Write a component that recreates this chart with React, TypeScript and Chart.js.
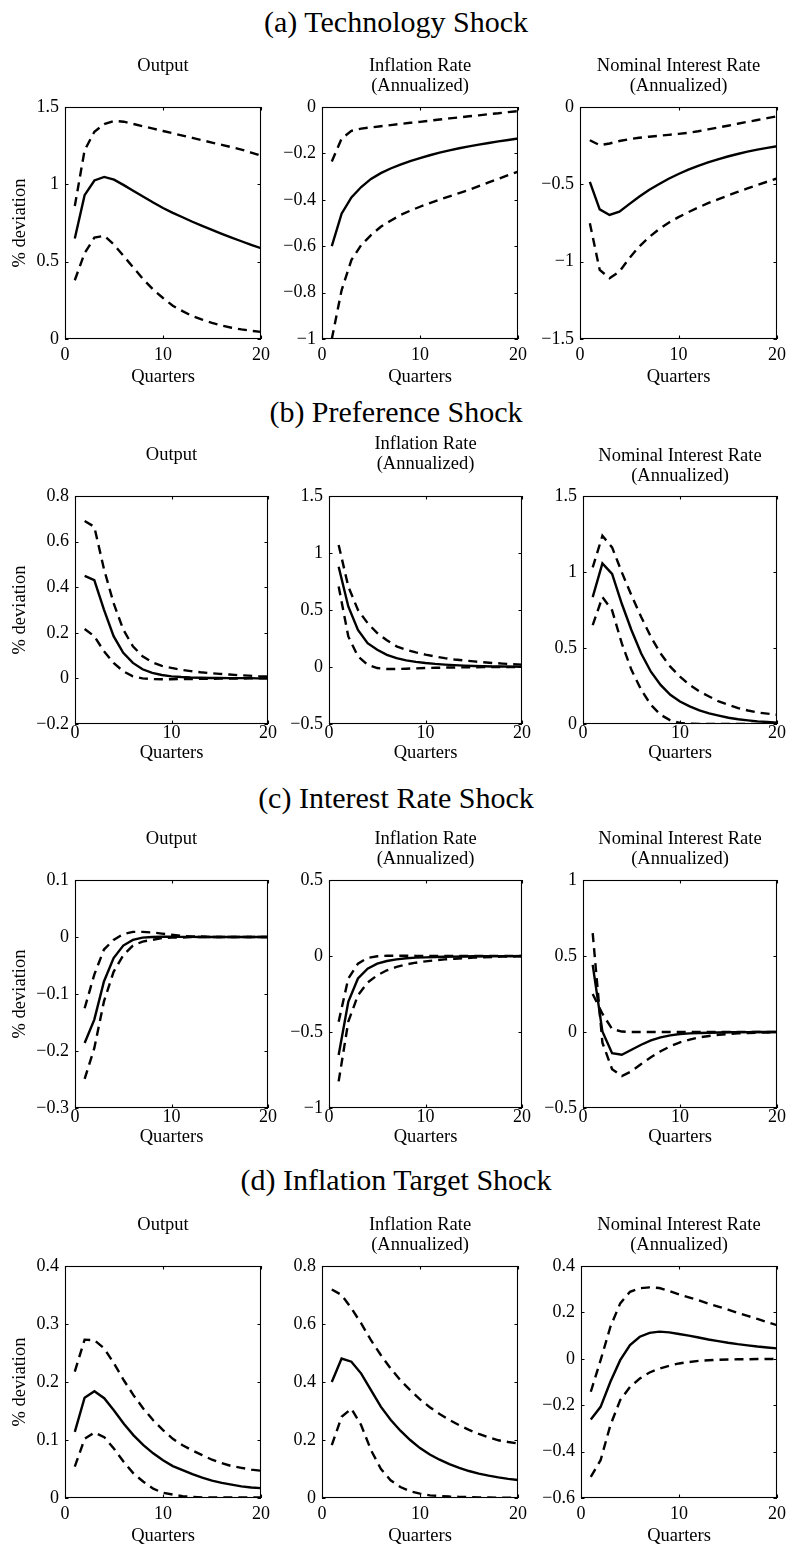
import React, { useEffect, useRef } from 'react';
import { Chart, registerables } from 'chart.js';

Chart.register(...registerables);

// ---------------- data ----------------
const QUARTERS = [1, 2, 3, 4, 5, 6, 7, 8, 9, 10, 11, 12, 13, 14, 15, 16, 17, 18, 19, 20];

// (a) Technology shock
const techOutputMid = [0.65, 0.93, 1.025, 1.048, 1.03, 0.995, 0.957, 0.92, 0.882, 0.847, 0.816, 0.787, 0.758, 0.731, 0.705, 0.68, 0.656, 0.632, 0.609, 0.587];
const techOutputUp = [0.86, 1.22, 1.34, 1.39, 1.41, 1.405, 1.39, 1.375, 1.36, 1.345, 1.33, 1.315, 1.3, 1.285, 1.27, 1.255, 1.24, 1.225, 1.205, 1.185];
const techOutputLo = [0.38, 0.555, 0.655, 0.668, 0.61, 0.535, 0.46, 0.385, 0.32, 0.265, 0.215, 0.18, 0.148, 0.125, 0.104, 0.087, 0.073, 0.062, 0.053, 0.046];

const techInflMid = [-0.6, -0.46, -0.39, -0.345, -0.31, -0.285, -0.265, -0.248, -0.233, -0.22, -0.208, -0.197, -0.187, -0.178, -0.17, -0.162, -0.155, -0.148, -0.142, -0.136];
const techInflUp = [-0.235, -0.136, -0.103, -0.093, -0.088, -0.083, -0.078, -0.073, -0.068, -0.064, -0.059, -0.054, -0.049, -0.045, -0.04, -0.036, -0.031, -0.027, -0.022, -0.018];
const techInflLo = [-1.0, -0.79, -0.66, -0.595, -0.552, -0.516, -0.49, -0.466, -0.447, -0.43, -0.414, -0.399, -0.385, -0.371, -0.358, -0.341, -0.325, -0.31, -0.294, -0.279];

const techRateMid = [-0.484, -0.662, -0.698, -0.677, -0.628, -0.58, -0.537, -0.5, -0.464, -0.433, -0.405, -0.38, -0.358, -0.338, -0.32, -0.304, -0.289, -0.276, -0.264, -0.254];
const techRateUp = [-0.215, -0.247, -0.236, -0.22, -0.208, -0.199, -0.192, -0.186, -0.18, -0.174, -0.167, -0.157, -0.145, -0.133, -0.121, -0.108, -0.096, -0.084, -0.072, -0.06];
const techRateLo = [-0.752, -1.053, -1.107, -1.064, -0.978, -0.903, -0.842, -0.791, -0.748, -0.712, -0.68, -0.65, -0.622, -0.597, -0.573, -0.549, -0.526, -0.504, -0.483, -0.462];

// (b) Preference shock
const prefOutputMid = [0.45, 0.431, 0.302, 0.185, 0.112, 0.068, 0.04, 0.024, 0.015, 0.009, 0.006, 0.004, 0.003, 0.002, 0.002, 0.001, 0.001, 0.001, 0.0, 0.0];
const prefOutputUp = [0.69, 0.665, 0.48, 0.33, 0.214, 0.141, 0.097, 0.071, 0.055, 0.046, 0.038, 0.032, 0.027, 0.023, 0.02, 0.017, 0.014, 0.012, 0.01, 0.009];
const prefOutputLo = [0.217, 0.185, 0.119, 0.068, 0.031, 0.009, 0.0, -0.003, -0.004, -0.004, -0.003, -0.003, -0.002, -0.002, -0.001, -0.001, -0.001, 0.0, 0.0, 0.0];

const prefInflMid = [0.88, 0.531, 0.326, 0.209, 0.151, 0.107, 0.078, 0.058, 0.045, 0.035, 0.027, 0.021, 0.016, 0.012, 0.009, 0.007, 0.005, 0.004, 0.003, 0.002];
const prefInflUp = [1.07, 0.706, 0.5, 0.385, 0.298, 0.234, 0.181, 0.152, 0.128, 0.108, 0.092, 0.078, 0.066, 0.057, 0.049, 0.042, 0.035, 0.03, 0.025, 0.021];
const prefInflLo = [0.706, 0.268, 0.093, 0.02, -0.009, -0.018, -0.018, -0.015, -0.012, -0.009, -0.007, -0.005, -0.004, -0.003, -0.002, -0.001, -0.001, 0.0, 0.0, 0.0];

const prefRateMid = [0.835, 1.057, 0.988, 0.791, 0.617, 0.464, 0.344, 0.257, 0.192, 0.148, 0.116, 0.089, 0.07, 0.055, 0.041, 0.031, 0.024, 0.017, 0.013, 0.009];
const prefRateUp = [1.03, 1.238, 1.162, 0.998, 0.846, 0.704, 0.573, 0.464, 0.377, 0.312, 0.257, 0.214, 0.181, 0.148, 0.126, 0.105, 0.089, 0.076, 0.068, 0.061];
const prefRateLo = [0.65, 0.835, 0.748, 0.53, 0.355, 0.225, 0.126, 0.061, 0.024, 0.007, 0.002, 0.0, 0.0, 0.0, 0.0, 0.0, 0.0, 0.0, 0.0, 0.0];

// (c) Interest rate shock
const intOutputMid = [-0.186, -0.145, -0.078, -0.037, -0.015, -0.005, -0.001, 0.0, 0.0006, 0.0005, 0.0003, 0.0002, 0.0001, 0.0, 0.0, 0.0, 0.0, 0.0, 0.0, 0.0];
const intOutputUp = [-0.125, -0.066, -0.022, -0.005, 0.005, 0.009, 0.009, 0.008, 0.006, 0.004, 0.002, 0.001, 0.001, 0.0, 0.0, 0.0, 0.0, 0.0, 0.0, 0.0];
const intOutputLo = [-0.249, -0.195, -0.113, -0.061, -0.032, -0.015, -0.008, -0.005, -0.002, -0.001, -0.001, 0.0, 0.0, 0.0, 0.0, 0.0, 0.0, 0.0, 0.0, 0.0];

const intInflMid = [-0.651, -0.301, -0.148, -0.083, -0.05, -0.033, -0.022, -0.015, -0.011, -0.009, -0.007, -0.005, -0.004, -0.003, -0.002, -0.002, -0.001, -0.001, -0.001, 0.0];
const intInflUp = [-0.432, -0.148, -0.05, -0.013, -0.002, 0.002, 0.002, 0.002, 0.001, 0.001, 0.001, 0.0, 0.0, 0.0, 0.0, 0.0, 0.0, 0.0, 0.0, 0.0];
const intInflLo = [-0.825, -0.432, -0.258, -0.175, -0.127, -0.094, -0.072, -0.055, -0.044, -0.035, -0.028, -0.022, -0.018, -0.014, -0.011, -0.008, -0.006, -0.004, -0.003, -0.002];

const intRateMid = [0.442, 0.004, -0.139, -0.15, -0.117, -0.084, -0.055, -0.035, -0.022, -0.013, -0.009, -0.007, -0.005, -0.003, -0.002, -0.001, -0.001, 0.0, 0.0, 0.0];
const intRateBandA = [0.65, -0.07, -0.245, -0.29, -0.258, -0.21, -0.166, -0.127, -0.094, -0.068, -0.05, -0.035, -0.026, -0.018, -0.013, -0.009, -0.007, -0.004, -0.003, -0.002];
const intRateBandB = [0.25, 0.12, 0.02, 0.003, 0.0, 0.0, 0.0, 0.0, 0.0, 0.0, 0.0, 0.0, 0.0, 0.0, 0.0, 0.0, 0.0, 0.0, 0.0, 0.0];

// (d) Inflation target shock
const targOutputMid = [0.114, 0.173, 0.184, 0.172, 0.151, 0.128, 0.108, 0.091, 0.077, 0.065, 0.055, 0.048, 0.041, 0.035, 0.03, 0.026, 0.023, 0.02, 0.018, 0.017];
const targOutputUp = [0.218, 0.273, 0.272, 0.258, 0.232, 0.203, 0.177, 0.154, 0.134, 0.117, 0.102, 0.091, 0.082, 0.074, 0.066, 0.06, 0.055, 0.052, 0.049, 0.047];
const targOutputLo = [0.054, 0.102, 0.113, 0.105, 0.085, 0.062, 0.042, 0.028, 0.016, 0.009, 0.006, 0.003, 0.002, 0.001, 0.001, 0.001, 0.001, 0.001, 0.001, 0.001];

const targInflMid = [0.4, 0.481, 0.47, 0.429, 0.372, 0.315, 0.27, 0.232, 0.2, 0.172, 0.15, 0.132, 0.117, 0.104, 0.093, 0.084, 0.077, 0.071, 0.066, 0.062];
const targInflUp = [0.719, 0.7, 0.654, 0.602, 0.544, 0.493, 0.447, 0.406, 0.372, 0.34, 0.313, 0.29, 0.269, 0.251, 0.235, 0.221, 0.209, 0.199, 0.193, 0.188];
const targInflLo = [0.182, 0.28, 0.308, 0.251, 0.165, 0.101, 0.061, 0.038, 0.023, 0.015, 0.009, 0.007, 0.005, 0.004, 0.003, 0.002, 0.002, 0.001, 0.001, 0.001];

const targRateMid = [-0.262, -0.207, -0.099, -0.006, 0.059, 0.095, 0.112, 0.117, 0.114, 0.107, 0.1, 0.092, 0.083, 0.076, 0.069, 0.063, 0.058, 0.053, 0.049, 0.045];
const targRateUp = [-0.142, -0.006, 0.138, 0.239, 0.289, 0.304, 0.308, 0.305, 0.292, 0.278, 0.265, 0.252, 0.238, 0.225, 0.212, 0.198, 0.185, 0.172, 0.158, 0.145];
const targRateLo = [-0.509, -0.437, -0.286, -0.178, -0.121, -0.085, -0.059, -0.042, -0.03, -0.02, -0.014, -0.009, -0.006, -0.004, -0.003, -0.002, -0.002, -0.001, -0.001, -0.001];

// titles and axis labels
const SECTION_TITLES = ['(a) Technology Shock', '(b) Preference Shock', '(c) Interest Rate Shock', '(d) Inflation Target Shock'];
const OUTPUT_TITLE = ['Output'];
const INFL_TITLE = ['Inflation Rate', '(Annualized)'];
const RATE_TITLE = ['Nominal Interest Rate', '(Annualized)'];
const X_LABEL = 'Quarters';
const Y_LABEL = '% deviation';
const X_TICKS = [0, 10, 20];

// y-axis ranges [min, max, step] per row/column
const Y_RANGES = [
  [[0, 1.5, 0.5], [-1, 0, 0.2], [-1.5, 0, 0.5]],
  [[-0.2, 0.8, 0.2], [-0.5, 1.5, 0.5], [0, 1.5, 0.5]],
  [[-0.3, 0.1, 0.1], [-1, 0.5, 0.5], [-0.5, 1, 0.5]],
  [[0, 0.4, 0.1], [0, 0.8, 0.2], [-0.6, 0.4, 0.2]],
];

const SERIES = [
  [[techOutputMid, techOutputUp, techOutputLo], [techInflMid, techInflUp, techInflLo], [techRateMid, techRateUp, techRateLo]],
  [[prefOutputMid, prefOutputUp, prefOutputLo], [prefInflMid, prefInflUp, prefInflLo], [prefRateMid, prefRateUp, prefRateLo]],
  [[intOutputMid, intOutputUp, intOutputLo], [intInflMid, intInflUp, intInflLo], [intRateMid, intRateBandA, intRateBandB]],
  [[targOutputMid, targOutputUp, targOutputLo], [targInflMid, targInflUp, targInflLo], [targRateMid, targRateUp, targRateLo]],
];
const PANEL_TITLES = [OUTPUT_TITLE, INFL_TITLE, RATE_TITLE];

// ---------------- layout (page pixels) ----------------
const FONT = "'Liberation Serif', 'Times New Roman', Times, serif";
const ROW_LAYOUT = [
  { headTop: 6.5, top: 107, bottom: 339, cols: [[65, 261], [322, 518], [580, 777]], titleOff: [41, 41, 41], tickOff: 16, quartersOff: 38 },
  { headTop: 396.5, top: 496, bottom: 724, cols: [[75, 268], [329, 522], [583, 777]], titleOff: [41, 52, 40], tickOff: 9.5, quartersOff: 29 },
  { headTop: 783, top: 880, bottom: 1108, cols: [[75, 268], [329, 522], [583, 777]], titleOff: [41, 41, 41], tickOff: 9.5, quartersOff: 29 },
  { headTop: 1165, top: 1266, bottom: 1498, cols: [[65, 261], [322, 518], [581, 777]], titleOff: [41, 41, 41], tickOff: 16, quartersOff: 38 },
];

const fmt = (v: number) => {
  const r = Math.round(v * 1e6) / 1e6;
  if (r === 0) return '0';
  const s = String(Math.abs(r));
  return r < 0 ? '\u2212' + s : s;
};

const framePlugin = {
  id: 'matlabFrame',
  afterDatasetsDraw(chart: any) {
    const { ctx, chartArea } = chart;
    const { left, top, right, bottom } = chartArea;
    const xs = chart.scales.x;
    const ys = chart.scales.y;
    ctx.save();
    ctx.strokeStyle = '#000';
    ctx.lineWidth = 1.1;
    ctx.strokeRect(left + 0.5, top + 0.5, right - left - 1, bottom - top - 1);
    const tl = 3.5;
    ctx.beginPath();
    for (const t of xs.ticks) {
      const px = Math.round(xs.getPixelForValue(t.value)) + 0.5;
      ctx.moveTo(px, bottom);
      ctx.lineTo(px, bottom - tl);
      ctx.moveTo(px, top);
      ctx.lineTo(px, top + tl);
    }
    for (const t of ys.ticks) {
      const py = Math.round(ys.getPixelForValue(t.value)) + 0.5;
      ctx.moveTo(left, py);
      ctx.lineTo(left + tl, py);
      ctx.moveTo(right, py);
      ctx.lineTo(right - tl, py);
    }
    ctx.stroke();
    ctx.restore();
  },
};

type PanelProps = {
  row: number;
  col: number;
};

function Panel({ row, col }: PanelProps) {
  const ref = useRef<HTMLCanvasElement>(null);
  const lay = ROW_LAYOUT[row];
  const [fl, fr] = lay.cols[col];
  const ft = lay.top;
  const fb = lay.bottom;
  const showY = col === 0;
  const Lm = showY ? fl : 62;
  const Rm = 26;
  const titleLines = PANEL_TITLES[col];
  const titleH = lay.titleOff[col] + 10;
  const Hb = lay.quartersOff + 11;
  const cw = Lm + (fr - fl) + Rm;
  const ch = titleH + (fb - ft) + Hb;
  const cl = fl - Lm;
  const ct = ft - titleH;

  useEffect(() => {
    const [mid, up, lo] = SERIES[row][col];
    const [yMin, yMax, yStep] = Y_RANGES[row][col];
    const toPts = (arr: number[]) => QUARTERS.map((q, i) => ({ x: q, y: arr[i] }));
    const dashed = { borderColor: '#000', borderWidth: 2.4, borderDash: [9, 6], pointRadius: 0, fill: false, tension: 0 };
    const chart = new Chart(ref.current as HTMLCanvasElement, {
      type: 'line',
      data: {
        datasets: [
          { data: toPts(up), ...dashed },
          { data: toPts(lo), ...dashed },
          { data: toPts(mid), borderColor: '#000', borderWidth: 2.4, pointRadius: 0, fill: false, tension: 0 },
        ],
      },
      options: {
        animation: false,
        responsive: false,
        maintainAspectRatio: false,
        devicePixelRatio: 1,
        events: [],
        layout: { padding: { left: 0, right: Rm, top: 0, bottom: 0 } },
        plugins: {
          legend: { display: false },
          tooltip: { enabled: false },
          title: {
            display: true,
            text: titleLines,
            color: '#000',
            fullSize: false,
            font: { family: FONT, size: 18.5, weight: 'normal', lineHeight: '20px' },
            padding: { top: 0, bottom: titleH - 20 * titleLines.length },
          },
        },
        scales: {
          x: {
            type: 'linear',
            position: 'bottom',
            min: 0,
            max: 20,
            grid: { display: false, drawTicks: false },
            border: { display: false },
            afterBuildTicks: (s: any) => {
              s.ticks = X_TICKS.map((v) => ({ value: v }));
            },
            ticks: {
              color: '#000',
              autoSkip: false,
              maxRotation: 0,
              padding: lay.tickOff - 10,
              font: { family: FONT, size: 18, lineHeight: '20px' },
              callback: (v: any) => fmt(Number(v)),
            },
            title: {
              display: true,
              text: X_LABEL,
              color: '#000',
              font: { family: FONT, size: 18.5, lineHeight: '22px' },
              padding: { top: 0, bottom: 0 },
            },
            afterFit: (s: any) => {
              s.height = Hb;
            },
          },
          y: {
            type: 'linear',
            position: 'left',
            min: yMin,
            max: yMax,
            grid: { display: false, drawTicks: false },
            border: { display: false },
            ticks: {
              stepSize: yStep,
              color: '#000',
              autoSkip: false,
              padding: 6,
              font: { family: FONT, size: 18, lineHeight: '20px' },
              callback: (v: any) => fmt(Number(v)),
            },
            title: {
              display: showY,
              text: Y_LABEL,
              color: '#000',
              font: { family: FONT, size: 18.5, lineHeight: '22px' },
              padding: { top: 9, bottom: 0 },
            },
            afterFit: (s: any) => {
              s.width = Lm;
            },
          },
        },
      } as any,
      plugins: [framePlugin],
    });
    return () => chart.destroy();
  }, []);

  return (
    <canvas
      ref={ref}
      width={cw}
      height={ch}
      style={{ position: 'absolute', left: cl + 'px', top: ct + 'px', width: cw + 'px', height: ch + 'px' }}
    />
  );
}

export default function App() {
  return (
    <div style={{ position: 'absolute', left: 0, top: 0, width: '788px', height: '1544px', background: '#fff', overflow: 'hidden' }}>
      {ROW_LAYOUT.map((lay, r) => (
        <div
          key={'h' + r}
          style={{
            position: 'absolute',
            left: 0,
            top: lay.headTop + 'px',
            width: '792px',
            textAlign: 'center',
            fontFamily: FONT,
            fontSize: '30px',
            lineHeight: '30px',
            color: '#000',
            whiteSpace: 'nowrap',
          }}
        >
          {SECTION_TITLES[r]}
        </div>
      ))}
      {ROW_LAYOUT.map((_, r) => [0, 1, 2].map((c) => <Panel key={r + '-' + c} row={r} col={c} />))}
    </div>
  );
}
